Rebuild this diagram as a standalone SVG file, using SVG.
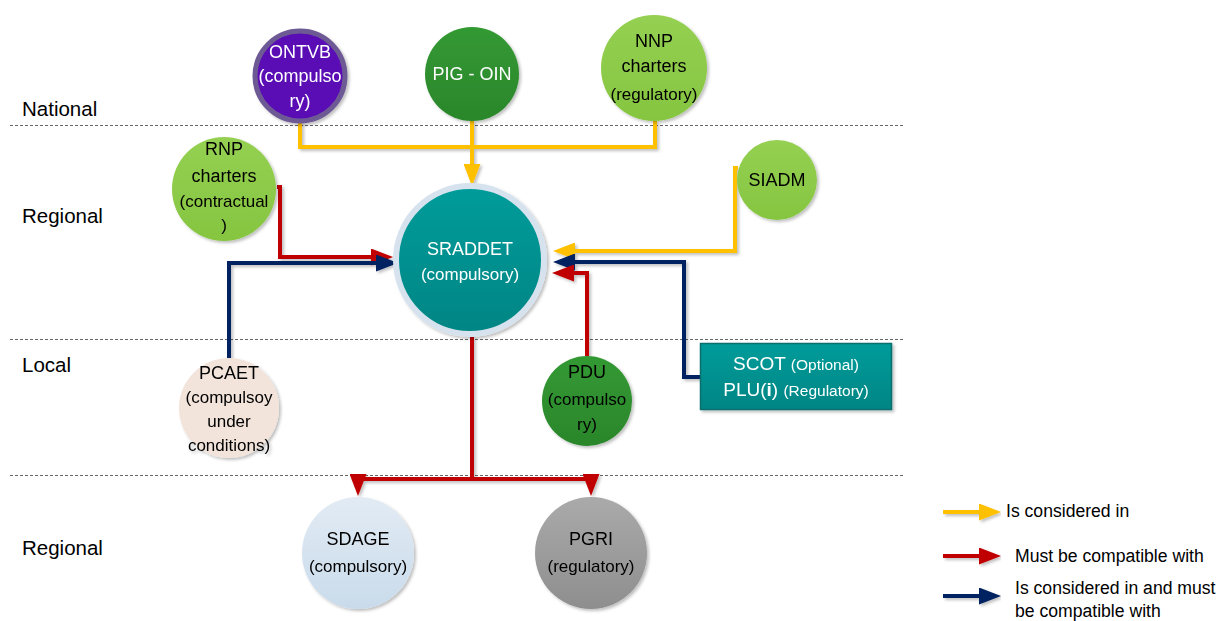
<svg xmlns="http://www.w3.org/2000/svg" width="1216" height="621" viewBox="0 0 1216 621">
  <defs>
    <style>
      text { font-family: "Liberation Sans", Arial, sans-serif; text-anchor: middle; fill: #000; }
      .w { fill: #fff; }
      .lvl { text-anchor: start; font-size: 20.5px; }
      .t18 { font-size: 18px; }
      .t17 { font-size: 17px; }
      .t15 { font-size: 17px; }
      .leg { text-anchor: start; font-size: 17.6px; }
      .sep { stroke: #666; stroke-width: 1; stroke-dasharray: 3 2; fill: none; }
      .c { fill: none; stroke-width: 4; stroke-linejoin: miter; }
      .y { stroke: #FFC000; }
      .r { stroke: #C00000; }
      .b { stroke: #002060; }
    </style>
    <filter id="sh" x="-20%" y="-20%" width="140%" height="140%">
      <feDropShadow dx="2" dy="2" stdDeviation="1.5" flood-color="#000" flood-opacity="0.25"/>
    </filter>
    <linearGradient id="gLight" x1="0" y1="0" x2="0" y2="1">
      <stop offset="0" stop-color="#95D052"/>
      <stop offset="1" stop-color="#85C540"/>
    </linearGradient>
    <linearGradient id="gDark" x1="0" y1="0" x2="0" y2="1">
      <stop offset="0" stop-color="#339933"/>
      <stop offset="1" stop-color="#2B862B"/>
    </linearGradient>
    <linearGradient id="gTeal" x1="0" y1="0" x2="0" y2="1">
      <stop offset="0" stop-color="#009C9A"/>
      <stop offset="1" stop-color="#008584"/>
    </linearGradient>
    <linearGradient id="gSdage" x1="0" y1="0" x2="0" y2="1">
      <stop offset="0" stop-color="#E2EBF4"/>
      <stop offset="1" stop-color="#C9DBEB"/>
    </linearGradient>
    <linearGradient id="gPgri" x1="0" y1="0" x2="0" y2="1">
      <stop offset="0" stop-color="#AAAAAA"/>
      <stop offset="1" stop-color="#8E8E8E"/>
    </linearGradient>
    <marker id="aY" markerUnits="userSpaceOnUse" markerWidth="22" markerHeight="17" refX="12" refY="8.5" orient="auto">
      <path d="M0,0 L22,8.5 L0,17 z" fill="#FFC000"/>
    </marker>
    <marker id="aR" markerUnits="userSpaceOnUse" markerWidth="22" markerHeight="17" refX="12" refY="8.5" orient="auto">
      <path d="M0,0 L22,8.5 L0,17 z" fill="#C00000"/>
    </marker>
    <marker id="aB" markerUnits="userSpaceOnUse" markerWidth="22" markerHeight="17" refX="12" refY="8.5" orient="auto">
      <path d="M0,0 L22,8.5 L0,17 z" fill="#002060"/>
    </marker>
  </defs>

  <rect width="1216" height="621" fill="#fff"/>

  <!-- level separators -->
  <g id="levels">
    <line class="sep" x1="10" y1="125.5" x2="903" y2="125.5"/>
    <line class="sep" x1="10" y1="339.5" x2="903" y2="339.5"/>
    <line class="sep" x1="10" y1="475.5" x2="903" y2="475.5"/>
    <text class="lvl" x="22" y="116">National</text>
    <text class="lvl" x="22" y="223">Regional</text>
    <text class="lvl" x="22" y="372">Local</text>
    <text class="lvl" x="22" y="555">Regional</text>
  </g>

  <!-- connectors -->
  <g id="connectors" filter="url(#sh)">
    <path class="c y" d="M300,121 V147 H472"/>
    <path class="c y" d="M655,121 V147 H472"/>
    <path class="c y" d="M472,121 V176" marker-end="url(#aY)"/>
    <path class="c y" d="M738,168 H735 V251 H563" marker-end="url(#aY)"/>
    <path class="c r" d="M277,187 H280 V257 H383" marker-end="url(#aR)"/>
    <path class="c b" d="M229,358 V263 H388" marker-end="url(#aB)"/>
    <path class="c b" d="M701,377 H684 V262 H563" marker-end="url(#aB)"/>
    <path class="c r" d="M587,356 V273 H562" marker-end="url(#aR)"/>
    <path class="c r" d="M472,337 V479 H358 V486" marker-end="url(#aR)"/>
    <path class="c r" d="M472,479 H591 V486" marker-end="url(#aR)"/>
  </g>

  <!-- national nodes -->
  <g id="ontvb" filter="url(#sh)">
    <circle cx="300" cy="76" r="45" fill="#5A0DB5" stroke="#6D5A94" stroke-width="5"/>
    <text class="t18 w" x="300" y="58">ONTVB</text>
    <text class="t18 w" x="300" y="82">(compulso</text>
    <text class="t18 w" x="300" y="107">ry)</text>
  </g>
  <g id="pig-oin" filter="url(#sh)">
    <circle cx="472" cy="74" r="47" fill="url(#gDark)"/>
    <text class="t18 w" x="472" y="80">PIG - OIN</text>
  </g>
  <g id="nnp" filter="url(#sh)">
    <circle cx="654" cy="68" r="53" fill="url(#gLight)"/>
    <text class="t18" x="654" y="47">NNP</text>
    <text class="t18" x="654" y="72">charters</text>
    <text class="t15" x="654" y="100">(regulatory)</text>
  </g>

  <!-- regional nodes -->
  <g id="rnp" filter="url(#sh)">
    <circle cx="224" cy="189" r="52" fill="url(#gLight)"/>
    <text class="t18" x="224" y="155">RNP</text>
    <text class="t18" x="224" y="182">charters</text>
    <text class="t17" x="224" y="207">(contractual</text>
    <text class="t17" x="224" y="231">)</text>
  </g>
  <g id="sraddet" filter="url(#sh)">
    <circle cx="470" cy="260" r="74" fill="url(#gTeal)" stroke="#D6E3EE" stroke-width="6"/>
    <text class="t18 w" x="470" y="255">SRADDET</text>
    <text class="t17 w" x="470" y="280">(compulsory)</text>
  </g>
  <g id="siadm" filter="url(#sh)">
    <circle cx="777" cy="180" r="40" fill="url(#gLight)"/>
    <text class="t18" x="777" y="186">SIADM</text>
  </g>

  <!-- local nodes -->
  <g id="pcaet" filter="url(#sh)">
    <circle cx="229" cy="408" r="50" fill="#F2E4DB"/>
    <text class="t18" x="229" y="379">PCAET</text>
    <text class="t17" x="229" y="403">(compulsoy</text>
    <text class="t17" x="229" y="427">under</text>
    <text class="t17" x="229" y="451">conditions)</text>
  </g>
  <g id="pdu" filter="url(#sh)">
    <circle cx="587" cy="401" r="45" fill="url(#gDark)"/>
    <text class="t18" x="587" y="378">PDU</text>
    <text class="t17" x="587" y="405">(compulso</text>
    <text class="t17" x="587" y="430">ry)</text>
  </g>
  <g id="scot-plu" filter="url(#sh)">
    <rect x="700.5" y="343.5" width="191" height="66" fill="url(#gTeal)" stroke="#0E6E6E" stroke-width="1.5"/>
    <text class="w" x="796" y="370"><tspan font-size="19">SCOT </tspan><tspan font-size="15.5">(Optional)</tspan></text>
    <text class="w" x="796" y="396"><tspan font-size="19">PLU(</tspan><tspan font-size="19" font-weight="bold">i</tspan><tspan font-size="19">) </tspan><tspan font-size="15.5">(Regulatory)</tspan></text>
  </g>

  <!-- downstream regional nodes -->
  <g id="sdage" filter="url(#sh)">
    <circle cx="358" cy="553" r="56" fill="url(#gSdage)"/>
    <text class="t18" x="358" y="545">SDAGE</text>
    <text class="t17" x="358" y="572">(compulsory)</text>
  </g>
  <g id="pgri" filter="url(#sh)">
    <circle cx="591" cy="553" r="56" fill="url(#gPgri)"/>
    <text class="t18" x="591" y="545">PGRI</text>
    <text class="t17" x="591" y="572">(regulatory)</text>
  </g>

  <!-- legend -->
  <g id="legend">
    <g filter="url(#sh)">
      <path class="c y" d="M943,512 H991" marker-end="url(#aY)"/>
      <path class="c r" d="M943,556 H991" marker-end="url(#aR)"/>
      <path class="c b" d="M943,596 H991" marker-end="url(#aB)"/>
    </g>
    <text class="leg" x="1006" y="517">Is considered in</text>
    <text class="leg" x="1015" y="562">Must be compatible with</text>
    <text class="leg" x="1015" y="594">Is considered in and must</text>
    <text class="leg" x="1015" y="617">be compatible with</text>
  </g>
</svg>
